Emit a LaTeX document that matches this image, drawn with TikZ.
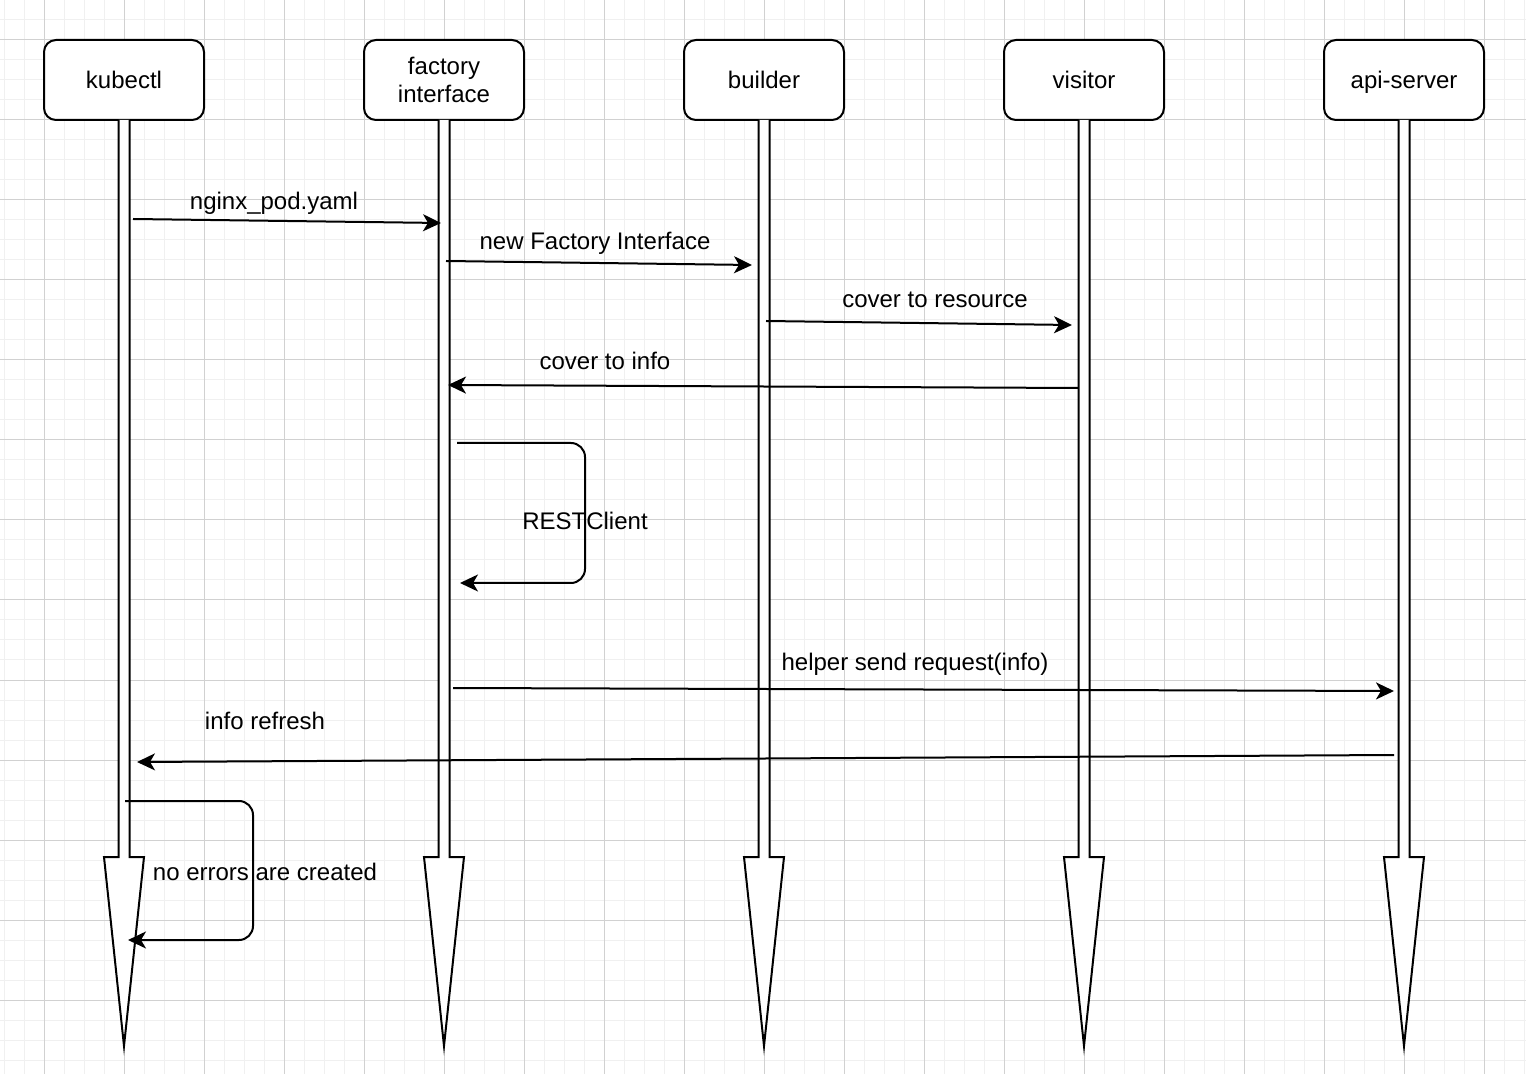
\documentclass[tikz,border=0pt]{standalone}
\usepackage{fontspec}
\setmainfont{Liberation Sans}
\usetikzlibrary{positioning, arrows.meta, calc}

\begin{document}
\begin{tikzpicture}[
    x=0.5pt, y=-0.5pt,
    >={Stealth[length=9pt, width=8.5pt, inset=2.5pt]},
    font=\fontsize{12}{14}\selectfont,
    minorgrid/.style={
        draw=black!6,
        line width=0.5pt
    },
    majorgrid/.style={
        draw=black!18,
        line width=0.5pt
    },
    head/.style={
        rectangle,
        rounded corners=6pt,
        draw,
        fill=white,
        line width=1pt,
        minimum width=80pt,
        minimum height=40pt,
        inner sep=0pt,
        outer sep=0pt,
        text depth=0pt,
        align=center
    },
    lifeline/.style={
        draw,
        fill=white,
        line width=1pt,
        line join=miter
    },
    msg/.style={
        ->,
        line width=1pt
    },
    selfmsg/.style={
        msg,
        rounded corners=7pt
    },
    lbl/.style={
        anchor=base,
        inner sep=0pt
    }
]

    \useasboundingbox (0,0) rectangle (1526,1074);

    % --- Background grid ---
    \fill[white] (0,0) rectangle (1526,1074);
    \foreach \x in {4,24,...,1524} \draw[minorgrid] (\x,0) -- (\x,1074);
    \foreach \y in {0,20,...,1060} \draw[minorgrid] (0,\y) -- (1526,\y);
    \foreach \x in {44,124,...,1484} \draw[majorgrid] (\x,0) -- (\x,1074);
    \foreach \y in {40,120,...,1040} \draw[majorgrid] (0,\y) -- (1526,\y);

    % --- Participants ---
    \node[head] (kubectl) at (124,80) {kubectl};
    \node[head, right=80pt of kubectl] (factory) {factory\\interface};
    \node[head, right=80pt of factory] (builder) {builder};
    \node[head, right=80pt of builder] (visitor) {visitor};
    \node[head, right=80pt of visitor] (apiserver) {api-server};

    % --- Lifelines ---
    \foreach \n in {kubectl,factory,builder,visitor,apiserver}
        \draw[lifeline] ($(\n.south)+(-5.5,0)$) -- ($(\n.south)+(-5.5,737)$)
            -- ($(\n.south)+(-20,737)$) -- ($(\n.south)+(0,926)$)
            -- ($(\n.south)+(20,737)$) -- ($(\n.south)+(5.5,737)$)
            -- ($(\n.south)+(5.5,0)$);

    % --- Messages ---
    \coordinate (yamlA) at (133,219);
    \coordinate (yamlB) at (441,223);
    \draw[msg] (yamlA) -- (yamlB);
    \node[lbl] (yamlL) at (274,210) {nginx\_pod.yaml};

    \coordinate (newA) at (446,261);
    \coordinate (newB) at (752,265);
    \draw[msg] (newA) -- (newB);
    \node[lbl] (newL) at (595,250) {new Factory Interface};

    \coordinate (resA) at (766,321);
    \coordinate (resB) at (1072,325);
    \draw[msg] (resA) -- (resB);
    \node[lbl] (resL) at (935,308) {cover to resource};

    \coordinate (infoA) at (1078,388);
    \coordinate (infoB) at (448,385);
    \draw[msg] (infoA) -- (infoB);
    \node[lbl] (infoL) at (605,370) {cover to info};

    % self call on factory interface
    \coordinate (restA) at (457,443);
    \coordinate (restB) at (460,583);
    \draw[selfmsg] (restA) -- (585,443) -- (585,583) -- (restB);
    \node[lbl] (restL) at (585,530) {RESTClient};

    \coordinate (helpA) at (453,688);
    \coordinate (helpB) at (1394,691);
    \draw[msg] (helpA) -- (helpB);
    \node[lbl] (helpL) at (915,670) {helper send request(info)};

    \coordinate (refA) at (1394,755);
    \coordinate (refB) at (137,762);
    \draw[msg] (refA) -- (refB);
    \node[lbl] (refL) at (265,729) {info refresh};

    % self call on kubectl
    \coordinate (errA) at (125,801);
    \coordinate (errB) at (128,940);
    \draw[selfmsg] (errA) -- (253,801) -- (253,940) -- (errB);
    \node[lbl] (errL) at (265,880) {no errors are created};

\end{tikzpicture}
\end{document}
